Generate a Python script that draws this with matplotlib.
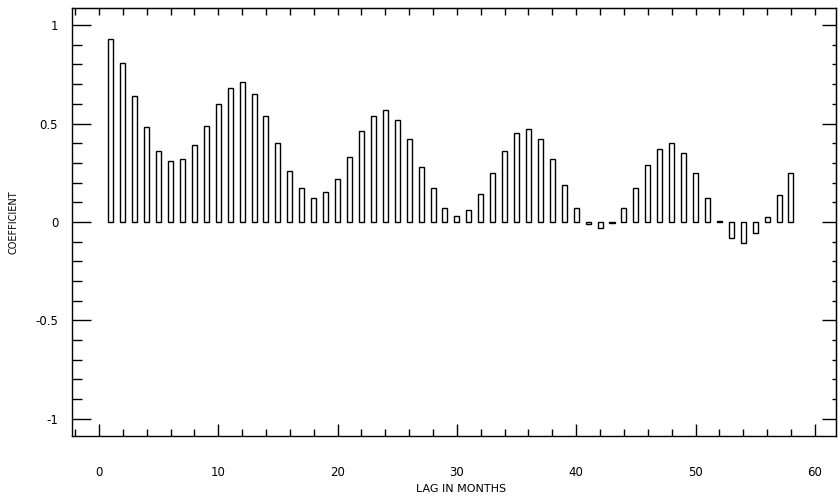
import numpy as np
import matplotlib
matplotlib.use("Agg")
import matplotlib.pyplot as plt
from matplotlib.ticker import MultipleLocator

# autocorrelation coefficients, lags 1..58
lags = list(range(1, 59))
coef = [0.93, 0.81, 0.64, 0.48, 0.36, 0.31, 0.32, 0.39, 0.49, 0.60,
        0.68, 0.71, 0.65, 0.54, 0.40, 0.26, 0.17, 0.12, 0.15, 0.22,
        0.33, 0.46, 0.54, 0.57, 0.52, 0.42, 0.28, 0.17, 0.07, 0.03,
        0.06, 0.14, 0.25, 0.36, 0.45, 0.47, 0.42, 0.32, 0.19, 0.07,
        -0.01, -0.03, -0.007, 0.07, 0.17, 0.29, 0.37, 0.40, 0.35, 0.25,
        0.12, 0.003, -0.08, -0.105, -0.058, 0.024, 0.137, 0.25]

yticks = [-1, -0.5, 0, 0.5, 1]
ytick_labels = ['-1', '-0.5', '0', '0.5', '1']
xticks = [0, 10, 20, 30, 40, 50, 60]

fig = plt.figure(figsize=(8.38, 5.01), dpi=100)
ax = fig.add_axes([0.086, 0.13, 0.912, 0.854])

ax.bar(lags, coef, width=0.42, color='white', edgecolor='black', linewidth=1.0)

ax.set_xlim(-2.25, 61.8)
ax.set_ylim(-1.087, 1.087)

ax.set_yticks(yticks)
ax.set_yticklabels(ytick_labels)
ax.yaxis.set_minor_locator(MultipleLocator(0.1))
ax.set_xticks(xticks)
ax.xaxis.set_minor_locator(MultipleLocator(2))

ax.tick_params(axis='both', which='both', direction='in', labelsize=8.5, width=1.0)
ax.tick_params(axis='y', which='major', length=14, pad=10)
ax.tick_params(axis='y', which='minor', length=7)
ax.tick_params(axis='x', which='major', length=9, pad=22)
ax.tick_params(axis='x', which='minor', length=5)

# shorter ticks on right and top edges
right = ax.secondary_yaxis('right')
right.set_yticks(yticks)
right.yaxis.set_minor_locator(MultipleLocator(0.1))
right.tick_params(which='both', direction='in', labelright=False, width=1.0)
right.tick_params(which='major', length=10)
right.tick_params(which='minor', length=3)

top = ax.secondary_xaxis('top')
top.xaxis.set_major_locator(MultipleLocator(2))
top.tick_params(which='both', direction='in', labeltop=False, width=1.0, length=5)

for s in ax.spines.values():
    s.set_linewidth(1.0)

ax.set_xlabel('LAG IN MONTHS', fontsize=8)
ax.xaxis.set_label_coords(0.509, -0.112)
ax.set_ylabel('COEFFICIENT', fontsize=7)
ax.yaxis.set_label_coords(-0.07, 0.5)

fig.savefig('out.png', dpi=100)
